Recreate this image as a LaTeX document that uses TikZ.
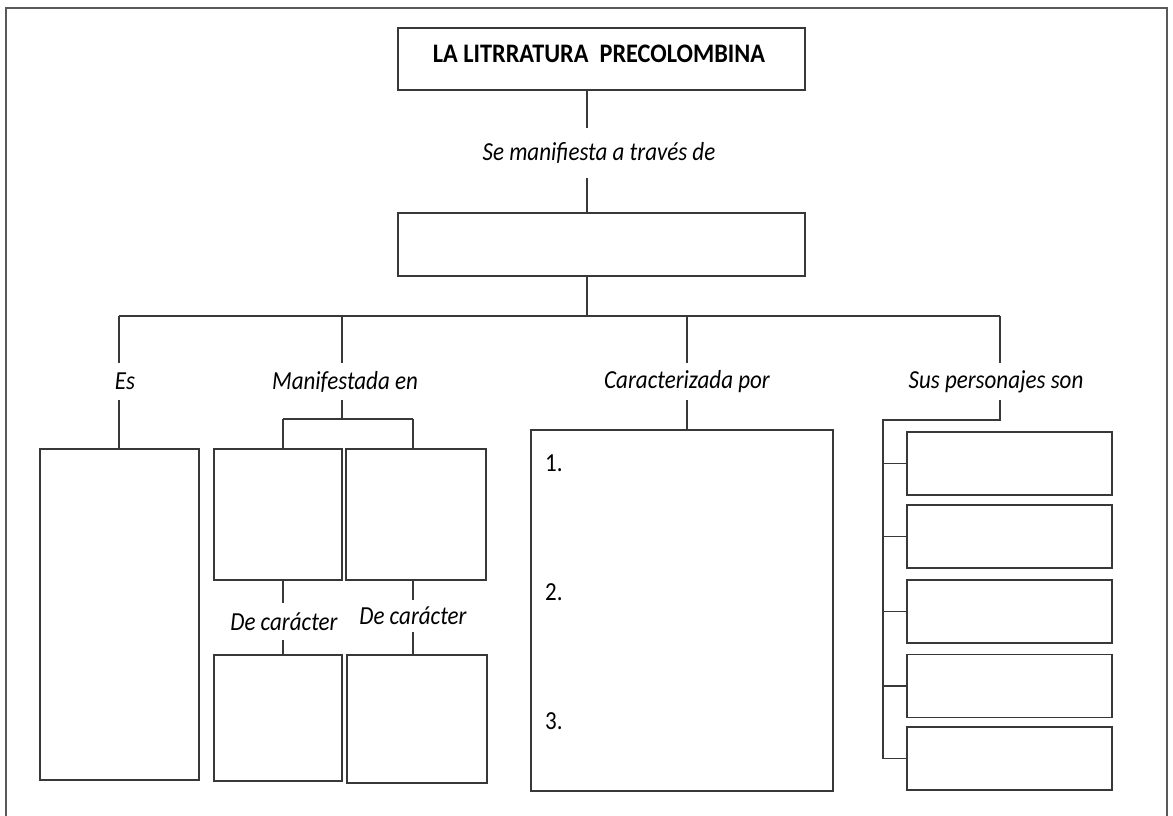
\documentclass[tikz,border=0pt]{standalone}
\usepackage{fontspec}
\setmainfont{Carlito}
\newcommand{\tallt}[1]{\scalebox{1}[1.13]{#1}}
\begin{document}
\begin{tikzpicture}[x=1pt,y=-1pt,
  ln/.style={draw=black!78,line width=1.4pt},
  box/.style={ln,rectangle,inner sep=0pt,fill=white},
  lab/.style={inner sep=0pt,font=\fontsize{23}{27}\selectfont\itshape},
  num/.style={inner sep=0pt,anchor=west,font=\fontsize{23}{27}\selectfont}]
\useasboundingbox (0,0) rectangle (1173,816);
% outer frame
\draw[draw=black!65,line width=2pt] (6,830) -- (6,8) -- (1167,8) -- (1167,830);
% top boxes
\node[box,minimum width=407pt,minimum height=62pt] (title) at (601.5,59) {};
\node[inner sep=0pt,font=\fontsize{24.3}{28}\selectfont\bfseries] (tt) at (599,54) {\scalebox{1}[1.1]{LA LITRRATURA\ \ PRECOLOMBINA}};
\coordinate (sp) at (587,0);
\node[lab,minimum height=50pt] (se) at (599,153) {\tallt{Se manifiesta a través de}};
\node[box,minimum width=407pt,minimum height=63pt] (b2) at (601.5,244.5) {};
\draw[ln] (title.south -| sp) -- (sp |- se.north);
\draw[ln] (sp |- se.south) -- (sp |- b2.north);
% bar
\coordinate (bl) at (119,316);
\coordinate (bm) at (342,316);
\coordinate (bc) at (687,316);
\coordinate (br) at (1000,316);
\draw[ln] (b2.south -| sp) -- (bl -| sp);
\draw[ln] (bl) -- (br);
% labels
\node[lab,minimum height=37pt] (es) at (125,381.5) {\tallt{Es}};
\node[lab,minimum height=37pt] (man) at (345,381.5) {\tallt{Manifestada en}};
\node[lab,minimum height=37pt] (car) at (687,381.5) {\tallt{Caracterizada por}};
\node[lab,minimum height=37pt] (sus) at (996,381.5) {\tallt{Sus personajes son}};
\draw[ln] (bl) -- (bl |- es.north);
\draw[ln] (bm) -- (bm |- man.north);
\draw[ln] (bc) -- (bc |- car.north);
\draw[ln] (br) -- (br |- sus.north);
% Es column
\node[box,minimum width=159pt,minimum height=331pt] (esb) at (119.5,614.5) {};
\draw[ln] (bl |- es.south) -- (bl |- esb.north);
% Manifestada column
\coordinate (mj) at (342,419);
\coordinate (mjl) at (283,419);
\coordinate (mjr) at (413,419);
\node[box,minimum width=128pt,minimum height=131pt] (m1) at (278,514.5) {};
\node[box,minimum width=140pt,minimum height=131pt] (m2) at (416,514.5) {};
\draw[ln] (bm |- man.south) -- (mj);
\draw[ln] (mjl) -- (mjr);
\draw[ln] (mjl) -- (mjl |- m1.north);
\draw[ln] (mjr) -- (mjr |- m2.north);
\node[lab,minimum height=37pt] (dc1) at (284,621.5) {\tallt{De carácter}};
\node[lab,minimum height=32pt] (dc2) at (413,616) {\tallt{De carácter}};
\node[box,minimum width=128pt,minimum height=126pt] (d1) at (278,718) {};
\node[box,minimum width=140pt,minimum height=128pt] (d2) at (417,719) {};
\draw[ln] (m1.south -| mjl) -- (mjl |- dc1.north);
\draw[ln] (mjl |- dc1.south) -- (mjl |- d1.north);
\draw[ln] (m2.south -| mjr) -- (mjr |- dc2.north);
\draw[ln] (mjr |- dc2.south) -- (mjr |- d2.north);
% Caracterizada column
\node[box,minimum width=302pt,minimum height=361pt] (cb) at (682,610.5) {};
\draw[ln] (bc |- car.south) -- (bc |- cb.north);
\node[num] (n1) at (545,463) {\tallt{1.}};
\node[num] (n2) at (545,592) {\tallt{2.}};
\node[num] (n3) at (545,721) {\tallt{3.}};
% Sus personajes column
\foreach \i/\y in {1/463.5,2/536.5,3/611.5,4/686,5/758.5}
  \node[box,minimum width=205pt,minimum height=63pt] (p\i) at (1009.5,\y) {};
\coordinate (sj) at (1000,420);
\coordinate (st) at (883,420);
\draw[ln] (br |- sus.south) -- (sj) -- (st) -- (st |- p5.west) -- (p5.west);
\foreach \i in {1,2,3,4} \draw[ln] (st |- p\i.west) -- (p\i.west);
\end{tikzpicture}
\end{document}
